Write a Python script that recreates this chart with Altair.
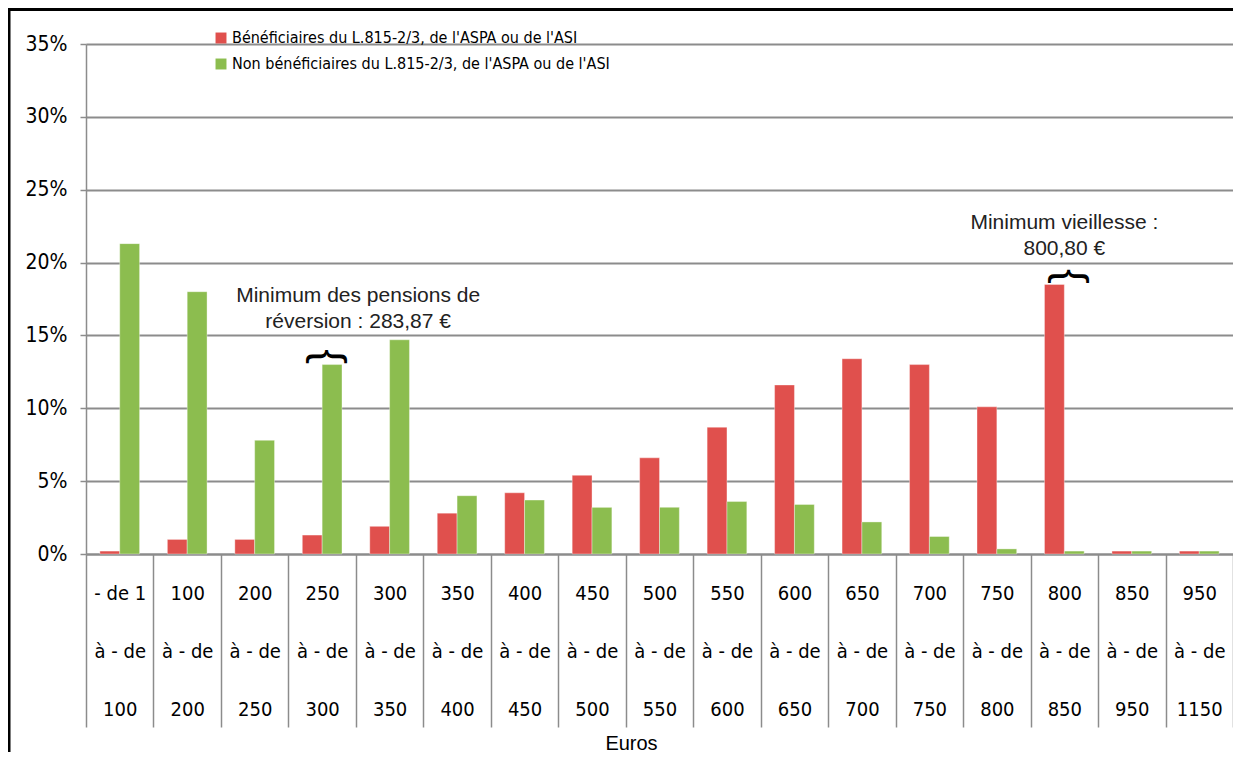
import altair as alt
import pandas as pd

# ---- data ----
categories = [
    "- de 1|à - de|100", "100|à - de|200", "200|à - de|250", "250|à - de|300",
    "300|à - de|350", "350|à - de|400", "400|à - de|450", "450|à - de|500",
    "500|à - de|550", "550|à - de|600", "600|à - de|650", "650|à - de|700",
    "700|à - de|750", "750|à - de|800", "800|à - de|850", "850|à - de|950",
    "950|à - de|1150",
]
beneficiaires = [0.2, 1.0, 1.0, 1.3, 1.9, 2.8, 4.2, 5.4, 6.6, 8.7, 11.6, 13.4, 13.0, 10.1, 18.5, 0.2, 0.2]
non_beneficiaires = [21.3, 18.0, 7.8, 13.0, 14.7, 4.0, 3.7, 3.2, 3.2, 3.6, 3.4, 2.2, 1.2, 0.35, 0.2, 0.2, 0.2]
series = [
    "Bénéficiaires du L.815-2/3, de l'ASPA ou de l'ASI",
    "Non bénéficiaires du L.815-2/3, de l'ASPA ou de l'ASI",
]
colors = ["#E0504D", "#8CBD4F"]
y_ticks = [0, 5, 10, 15, 20, 25, 30, 35]

annot1_lines = ["Minimum des pensions de", "réversion : 283,87 €"]
annot1_cat = ["250|à - de|300", "250|à - de|300"]
annot1_val = [17.7, 15.9]
annot2_lines = ["Minimum  vieillesse :", "800,80 €"]
annot2_cat = ["800|à - de|850", "800|à - de|850"]
annot2_val = [22.7, 20.9]
brace_cat = ["250|à - de|300", "800|à - de|850"]
brace_val = [13.0, 18.5]

# ---- tables ----
rows = []
for c, b, n in zip(categories, beneficiaires, non_beneficiaires):
    rows.append({"categorie": c, "serie": series[0], "valeur": b})
    rows.append({"categorie": c, "serie": series[1], "valeur": n})
df = pd.DataFrame(rows)
a1 = pd.DataFrame({"categorie": annot1_cat, "valeur": annot1_val, "texte": annot1_lines})
a2 = pd.DataFrame({"categorie": annot2_cat, "valeur": annot2_val, "texte": annot2_lines})
br = pd.DataFrame({"categorie": brace_cat, "valeur": brace_val})
one = pd.DataFrame({"k": [0]})

NARROW = "Liberation Sans Narrow, DejaVu Sans Condensed, sans-serif"
SANS = "Liberation Sans, Arial, sans-serif"
GRAY = "#8c8c8c"
W, H = 1147, 510

x_enc = alt.X(
    "categorie:N",
    sort=categories,
    scale=alt.Scale(paddingInner=0, paddingOuter=0),
    axis=alt.Axis(
        title="Euros",
        labelExpr="split(datum.label, '|')",
        labelAngle=0,
        labelFont=NARROW,
        labelFontSize=20,
        labelColor="black",
        labelLineHeight=58,
        labelBaseline="top",
        labelPadding=-144,
        labelOverlap=False,
        labelBound=False,
        tickBand="extent",
        tickSize=173,
        tickColor=GRAY,
        tickWidth=1.5,
        domainColor=GRAY,
        domainWidth=2,
        grid=False,
        titleFont=SANS,
        titleFontSize=20,
        titleFontWeight="normal",
        titleColor="black",
        titleX=545,
        titleY=195,
        titleAlign="center",
        titleBaseline="alphabetic",
    ),
)
y_enc = alt.Y(
    "valeur:Q",
    scale=alt.Scale(domain=[0, 35], nice=False),
    axis=alt.Axis(
        values=y_ticks,
        labelExpr="datum.value + '%'",
        title=None,
        grid=True,
        gridColor=GRAY,
        gridWidth=2,
        domainColor=GRAY,
        domainWidth=1.5,
        tickColor=GRAY,
        tickSize=6,
        tickWidth=1.5,
        labelFont=NARROW,
        labelFontSize=21,
        labelColor="black",
        labelPadding=13,
    ),
)

bars = alt.Chart(df).mark_bar(stroke="white", strokeWidth=0.6, strokeOpacity=0.6).encode(
    x=x_enc,
    xOffset=alt.XOffset("serie:N", sort=series, scale=alt.Scale(paddingInner=0, paddingOuter=0.7)),
    y=y_enc,
    color=alt.Color(
        "serie:N",
        scale=alt.Scale(domain=series, range=colors),
        legend=alt.Legend(
            title=None,
            orient="none",
            legendX=127,
            legendY=-14,
            symbolType="square",
            symbolSize=120,
            symbolStrokeWidth=0,
            labelFont=NARROW,
            labelFontSize=16,
            labelColor="black",
            labelLimit=0,
            rowPadding=10,
            padding=0,
            labelOffset=3,
        ),
    ),
)

t1 = alt.Chart(a1).mark_text(font=SANS, fontSize=21, color="#222222", align="center", baseline="middle", dx=36).encode(
    x=x_enc, y=y_enc, text="texte:N"
)
t2 = alt.Chart(a2).mark_text(font=SANS, fontSize=21, color="#222222", align="center", baseline="middle", dx=0).encode(
    x=x_enc, y=y_enc, text="texte:N"
)
# rotated brace: dx moves along screen-vertical, dy along screen-horizontal
braces = alt.Chart(br).mark_text(
    text="{", font=SANS, fontSize=44, angle=90, color="black", align="center", baseline="middle", dx=-8, dy=-6
).encode(x=x_enc, y=y_enc)

left_border = alt.Chart(one).mark_rule(color="black", strokeWidth=3).encode(
    x=alt.value(-77), y=alt.value(-37), y2=alt.value(720)
)
top_border = alt.Chart(one).mark_rule(color="black", strokeWidth=3).encode(
    x=alt.value(-79), x2=alt.value(W + 5), y=alt.value(-34.5)
)

chart = (
    alt.layer(bars, t1, t2, braces, left_border, top_border)
    .properties(
        width=W,
        height=H,
        padding={"left": 78, "top": 36, "right": 0, "bottom": 198},
        autosize=alt.AutoSizeParams(type="none"),
    )
    .configure_view(stroke=None)
    .configure(background="white")
)

chart.save("out.html", embed_options={"renderer": "svg", "actions": False})
